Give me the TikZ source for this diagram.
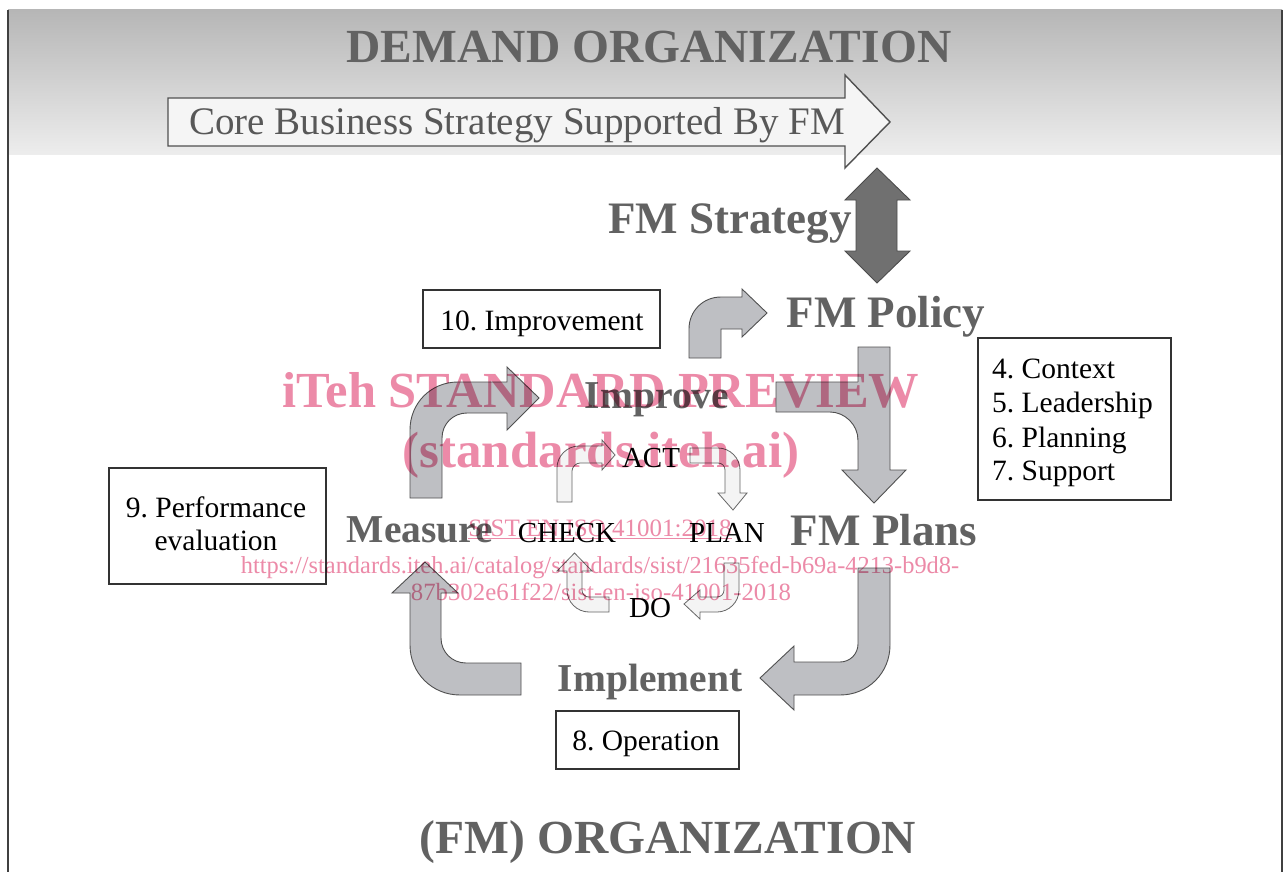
\documentclass[tikz,border=0pt]{standalone}
\usepackage{fontspec}
\setmainfont{Liberation Serif}
\frenchspacing
\definecolor{titlegray}{HTML}{626262}
\definecolor{arrowgray}{HTML}{BEBFC3}
\definecolor{edgegray}{HTML}{505050}
\definecolor{lightfill}{HTML}{F4F4F4}
\definecolor{wmpink}{RGB}{236,138,168}
\definecolor{topgray}{HTML}{B6B6B6}
\definecolor{darkarrow}{HTML}{707070}
\begin{document}
\frenchspacing
\begin{tikzpicture}[x=1pt,y=-1pt,
  bigtitle/.style={font=\bfseries\fontsize{47.5}{52}\selectfont, text=titlegray, inner sep=0, anchor=base},
  stage/.style={font=\bfseries\fontsize{45}{50}\selectfont, text=titlegray, inner sep=0, anchor=base},
  midstage/.style={font=\bfseries\fontsize{39.5}{44}\selectfont, text=titlegray, inner sep=0, anchor=base},
  pdca/.style={font=\fontsize{29}{34}\selectfont, text=black, inner sep=0, anchor=base},
  boxtext/.style={font=\fontsize{29.5}{34}\selectfont, text=black, inner sep=0, anchor=base},
  clausebox/.style={draw=black!80, line width=1.1pt, inner sep=0},
  bigarrow/.style={fill=arrowgray, draw=edgegray, line width=0.9pt},
  smallarrow/.style={fill=lightfill, draw=black!60, line width=0.8pt},
  wm/.style={text=wmpink, blend mode=multiply, inner sep=0, anchor=base}]
\useasboundingbox (0,0) rectangle (1288,872);
\fill[white] (0,0) rectangle (1288,872);
% top band
\shade[top color=topgray, bottom color=white!93!black] (8,10) rectangle (1282,155);
\draw[black!75, line width=1.2pt] (8,10) -- (8,872);
\draw[black!75, line width=1.2pt] (1282,10) -- (1282,872);

\node[bigtitle] (demand) at (649,63) {DEMAND ORGANIZATION};

% core business arrow
\draw[fill=white!96!black, draw=edgegray, line width=1.4pt]
  (168,98) -- (845,98) -- (845,75) -- (890,122) -- (845,168) -- (845,146) -- (168,146) -- cycle;
\node[font=\fontsize{39}{44}\selectfont, text=titlegray!90!black, inner sep=0, anchor=base] (core) at (517,135) {Core Business Strategy Supported By FM};

% FM strategy double arrow
\draw[fill=darkarrow, draw=black!70, line width=0.9pt]
  (877,168) -- (910,200) -- (897,200) -- (897,251) -- (910,251) -- (877,283)
  -- (845,251) -- (856,251) -- (856,200) -- (845,200) -- cycle;
\node[stage] (strategy) at (730,233) {FM Strategy};

% outer cycle arrows
\draw[bigarrow] (689,358) -- (689,329) .. controls (689,311) and (703,297) .. (721,297)
  -- (742,297) -- (742,289) -- (767,313) -- (742,337) -- (742,329) -- (721,329) -- (721,358) -- cycle;
\node[stage] (policy) at (886,327) {FM Policy};

\draw[bigarrow] (858,347) -- (890,347) -- (890,470) -- (906,470) -- (874,503) -- (842,470) -- (858,470) -- cycle;
\fill[arrowgray] (776,382) -- (876,382) -- (876,440) -- (858,440) .. controls (858,425) and (845,412) .. (830,412) -- (776,412) -- cycle;
\draw[edgegray, line width=0.9pt] (858,382) -- (776,382) -- (776,412) -- (830,412) .. controls (845,412) and (858,425) .. (858,440);
\node[stage] (plans) at (884,545) {FM Plans};

\draw[bigarrow] (858,568) -- (890,568) -- (890,645) .. controls (890,673) and (868,695) .. (840,695)
  -- (794,695) -- (794,710) -- (760,678) -- (794,646) -- (794,662) -- (840,662)
  .. controls (850,662) and (858,654) .. (858,644) -- cycle;
\node[midstage] (implement) at (650,691) {Implement};

\draw[bigarrow] (521,663) -- (521,695) -- (460,695) .. controls (432,695) and (410,673) .. (410,645)
  -- (410,593) -- (392,593) -- (425,562) -- (458,593) -- (441,593) -- (441,638)
  .. controls (441,652) and (452,663) .. (466,663) -- cycle;
\node[midstage] (measure) at (420,542) {Measure};

\draw[bigarrow] (410,498) -- (410,430) .. controls (410,403) and (431,382) .. (458,382)
  -- (507,382) -- (507,367) -- (539,398) -- (507,430) -- (507,413) -- (467,413)
  .. controls (453,413) and (442,424) .. (442,438) -- (442,498) -- cycle;
\node[midstage] (improve) at (657,408) {Improve};

% inner PDCA arrows
\draw[smallarrow] (557,502) -- (557,468) .. controls (557,456) and (567,446) .. (579,446)
  -- (602,446) -- (602,440) -- (615,455) -- (602,470) -- (602,463) -- (580,463)
  .. controls (576,463) and (572,467) .. (572,471) -- (572,502) -- cycle;
\draw[smallarrow] (690,448) -- (718,448) .. controls (730,448) and (740,458) .. (740,470)
  -- (740,493) -- (747,493) -- (733,510) -- (718,493) -- (725,493) -- (725,470)
  .. controls (725,466) and (722,463) .. (718,463) -- (690,463) -- cycle;
\draw[smallarrow] (724,563) -- (739,563) -- (739,590) .. controls (739,602) and (729,612) .. (717,612)
  -- (700,612) -- (700,619) -- (684,604) -- (700,590) -- (700,597) -- (717,597)
  .. controls (721,597) and (724,594) .. (724,590) -- cycle;
\draw[smallarrow] (609,597) -- (609,612) -- (589,612) .. controls (577,612) and (567,602) .. (567,590)
  -- (567,571) -- (557,571) -- (574.5,553) -- (592,571) -- (582,571) -- (582,590)
  .. controls (582,594) and (585,597) .. (589,597) -- cycle;

\node[pdca] (act) at (651,467) {ACT};
\node[pdca] (check) at (567,542) {CHECK};
\node[pdca] (plan) at (727,542) {PLAN};
\node[pdca] (do) at (650,617) {DO};

% clause boxes
\node[clausebox, minimum width=237pt, minimum height=58pt] (b10) at (541.5,319) {};
\node[boxtext] (t10) at (542,330) {10. Improvement};

\node[clausebox, minimum width=193pt, minimum height=162pt] (b47) at (1074.5,419) {};
\node[boxtext, anchor=base west] (t4) at (992,378) {4. Context};
\node[boxtext, anchor=base west] (t5) at (992,412) {5. Leadership};
\node[boxtext, anchor=base west] (t6) at (992,447) {6. Planning};
\node[boxtext, anchor=base west] (t7) at (992,480) {7. Support};

\node[clausebox, minimum width=217pt, minimum height=116pt] (b9) at (217.5,526) {};
\node[boxtext] (t9a) at (216,517) {9. Performance};
\node[boxtext] (t9b) at (216,550) {evaluation};

\node[clausebox, minimum width=183pt, minimum height=58pt] (b8) at (647.5,740) {};
\node[boxtext] (t8) at (646,750) {8. Operation};

\node[bigtitle] (fmorg) at (668,853) {(FM) ORGANIZATION};

% watermark
\node[wm, font=\bfseries\fontsize{50.5}{55}\selectfont] (wm1) at (601,407) {iTeh STANDARD PREVIEW};
\node[wm, font=\bfseries\fontsize{51}{55}\selectfont] (wm2) at (601,467) {(standards.iteh.ai)};
\node[wm, font=\fontsize{25}{28}\selectfont] (wm3) at (600,536) {\underline{SIST EN ISO 41001:2018}};
\node[wm, font=\fontsize{24.4}{28}\selectfont] (wm4) at (600,573) {https://standards.iteh.ai/catalog/standards/sist/21635fed-b69a-4213-b9d8-};
\node[wm, font=\fontsize{24.8}{28}\selectfont] (wm5) at (601,600) {87b302e61f22/sist-en-iso-41001-2018};
\end{tikzpicture}
\end{document}
